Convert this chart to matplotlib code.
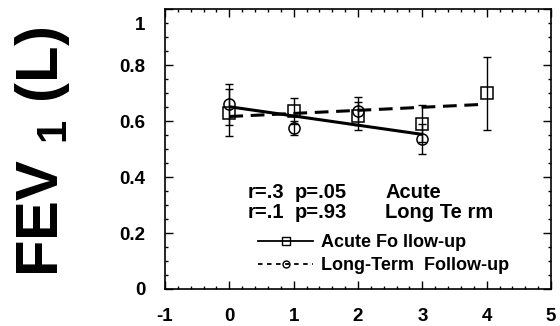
import numpy as np
import matplotlib
matplotlib.use('Agg')
import matplotlib.pyplot as plt
import matplotlib.transforms as mtransforms
from matplotlib.ticker import MultipleLocator

plt.rcParams['font.family'] = ['Liberation Sans', 'DejaVu Sans']
plt.rcParams['font.weight'] = 'bold'
plt.rcParams['axes.unicode_minus'] = False
plt.rcParams['mathtext.fontset'] = 'custom'
plt.rcParams['mathtext.rm'] = 'Liberation Sans:bold'
plt.rcParams['mathtext.bf'] = 'Liberation Sans:bold'
plt.rcParams['mathtext.default'] = 'bf'

# acute follow-up (squares)
acute_x = [0, 1, 2, 3, 4]
acute_y = [0.63, 0.636, 0.618, 0.592, 0.70]
acute_err = [0.084, 0.047, 0.05, 0.065, 0.13]

# long-term follow-up (circles)
long_x = [0, 1, 2, 3]
long_y = [0.66, 0.576, 0.636, 0.536]
long_err = [0.075, 0.025, 0.05, 0.054]

# regression lines as drawn
solid_fit_x = [0, 3]
solid_fit_y = [0.652, 0.553]
dashed_fit_x = [0, 3.9]
dashed_fit_y = [0.617, 0.66]

stats_r = ['r=.3', 'r=.1']
stats_p = ['p=.05', 'p=.93']
stats_group = ['Acute', 'Long Te rm']

fig = plt.figure(figsize=(5.6, 3.26), dpi=100)
ax = fig.add_axes([0.2946, 0.1135, 0.6894, 0.8575])

ax.errorbar(acute_x, acute_y, yerr=acute_err, fmt='none', ecolor='black',
            elinewidth=1, capsize=3, capthick=1)
ax.errorbar(long_x, long_y, yerr=long_err, fmt='none', ecolor='black',
            elinewidth=1, capsize=3, capthick=1)

ax.plot(solid_fit_x, solid_fit_y, color='black', lw=2.2, solid_capstyle='butt')
ax.plot(dashed_fit_x, dashed_fit_y, color='black', lw=2.2, dashes=(4.5, 2.5))

ax.plot(acute_x, acute_y, 's', ms=8.5, mfc='none', mec='black', mew=1.1)
ax.plot(long_x, long_y, 'o', ms=8, mfc='none', mec='black', mew=1.1)

# legend handles
h1, = ax.plot([], [], '-s', color='black', lw=1.3, ms=6, mfc='none', mew=1)
h2, = ax.plot([], [], '--o', color='black', lw=1.3, ms=5, mfc='none', mew=1,
              dashes=(2.5, 2.5))
ax.legend([h1, h2], ['Acute Fo llow-up', 'Long-Term  Follow-up'],
          loc='center left', bbox_to_anchor=(0.2, 0.125), frameon=False,
          handlelength=3.0, handletextpad=0.45, labelspacing=0.35,
          prop={'weight': 'bold', 'size': 13})

# r / p / group columns
for i, yy in enumerate([0.346, 0.275]):
    ax.text(0.215, yy, stats_r[i], transform=ax.transAxes, fontsize=14.5,
            fontweight='bold', va='center')
    ax.text(0.337, yy, stats_p[i], transform=ax.transAxes, fontsize=14.5,
            fontweight='bold', va='center')
    ax.text(0.570, yy, stats_group[i], transform=ax.transAxes, fontsize=14.5,
            fontweight='bold', va='center')

ax.set_xlim(-1, 5)
ax.set_ylim(0, 1)
ax.xaxis.set_major_locator(MultipleLocator(1))
ax.xaxis.set_minor_locator(MultipleLocator(0.2))
ax.yaxis.set_minor_locator(MultipleLocator(0.05))
ax.set_yticks([0, 0.2, 0.4, 0.6, 0.8, 1.0])
ax.set_yticklabels(['0', '0.2', '0.4', '0.6', '0.8', '1'])
ax.tick_params(which='both', direction='in', top=True, right=True, width=1)
ax.tick_params(which='major', length=6, labelsize=13.5)
ax.tick_params(axis='x', which='major', pad=14)
ax.tick_params(axis='y', which='major', pad=14)
for s in ax.spines.values():
    s.set_linewidth(1.2)

# top "1" label sits a little below its tick in the original
top_lab = ax.get_yticklabels()[-1]
top_lab.set_transform(top_lab.get_transform() +
                      mtransforms.ScaledTranslation(0, -10 / 72, fig.dpi_scale_trans))

fig.text(0.075, 0.535, 'FEV $_{1}$ (L)', rotation=90, fontsize=43,
         fontweight='bold', ha='center', va='center')

fig.savefig('out.png', dpi=100)
